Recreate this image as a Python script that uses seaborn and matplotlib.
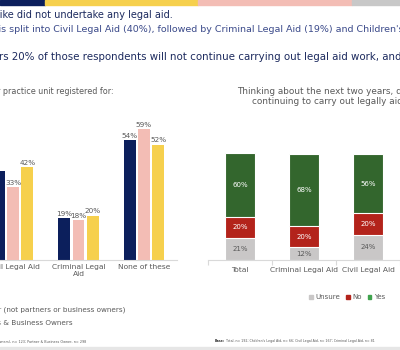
import matplotlib
matplotlib.use("Agg")
import matplotlib.pyplot as plt
import matplotlib.patches as mpatches
import pandas as pd
import seaborn as sns

# left chart: legal aid types the practice unit is registered for, by role
reg_categories = ["Civil Legal Aid", "Criminal Legal\nAid", "None of these"]
reg_groups = ["Total", "Solicitor (not partners or business owners)", "Partners & Business Owners"]
reg_total = [40, 19, 54]
reg_solicitor = [33, 18, 59]
reg_partner = [42, 20, 52]

# right chart: continuing to carry out legally aided work
cont_categories = ["Total", "Criminal Legal Aid", "Civil Legal Aid"]
cont_unsure = [21, 12, 24]
cont_no = [20, 20, 20]
cont_yes = [60, 68, 56]
cont_labels = ["Unsure", "No", "Yes"]

NAVY = "#0c1f5c"
PINK = "#f3bdb5"
YELLOW = "#f6d04d"
GREEN = "#33662d"
RED = "#b3231b"
GREY_BAR = "#c9c7c7"
TXT = "#595959"
HEAD = "#1c2a5e"
HEAD2 = "#3b4a8a"
AXIS = "#d9d9d9"

W, H = 400, 350
fig = plt.figure(figsize=(4, 3.5), dpi=100)


def fx(px):
    return px / W


def fy(py):
    return 1 - py / H


# slide decorations: colour strip on top, grey band at the bottom
for x0, x1, col in [(0, 45, NAVY), (45, 198, YELLOW), (198, 352, PINK), (352, 400, "#c8c8c8")]:
    fig.patches.append(mpatches.Rectangle((fx(x0), fy(4.5)), fx(x1 - x0), 4.5 / H,
                                          transform=fig.transFigure, color=col, zorder=0))
fig.patches.append(mpatches.Rectangle((0, 0), 1, 3 / H, transform=fig.transFigure,
                                      color="#e6e6e6", zorder=0))

renderer = fig.canvas.get_renderer()


def text_from(prefix, visible, x_px, y_px, **kw):
    # place text so that `visible` starts at x_px (prefix falls off the slide)
    probe = fig.text(0, 0, prefix, **kw)
    w = probe.get_window_extent(renderer).width
    probe.remove()
    fig.text(fx(x_px - w), fy(y_px), prefix + visible, va="center", **kw)


fig.text(fx(173), fy(15), "A large share of solicitors and partners alike did not undertake any legal aid.",
         ha="right", va="center", fontsize=7.0, color=HEAD)
text_from("Legal aid work undertaken i",
          "s split into Civil Legal Aid (40%), followed by Criminal Legal Aid (19%) and Children's Legal Aid.",
          1, 29, fontsize=6.8, color=HEAD2)
text_from("It appea",
          "rs 20% of those respondents will not continue carrying out legal aid work, and others are unsure.",
          -1, 57, fontsize=7.4, color=HEAD)

# ---- left chart
ax1 = fig.add_axes([0, fy(260), fx(177), (260 - 105) / H])
df = pd.DataFrame({
    "category": reg_categories * 3,
    "group": [g for g in reg_groups for _ in reg_categories],
    "value": reg_total + reg_solicitor + reg_partner,
})
sns.barplot(data=df, x="category", y="value", hue="group", order=reg_categories,
            hue_order=reg_groups, palette=[NAVY, PINK, YELLOW], saturation=1,
            width=0.66, gap=0.17, legend=False, ax=ax1)
for c in ax1.containers:
    ax1.bar_label(c, fmt="%.0f%%", fontsize=5.2, color=TXT, padding=1)
ax1.set_xlim(-13 / 65.5, 2 + 33 / 65.5)
ax1.set_ylim(0, 70)
ax1.set_xlabel("")
ax1.set_ylabel("")
ax1.set_yticks([])
for s in ["top", "right", "left"]:
    ax1.spines[s].set_visible(False)
ax1.spines["bottom"].set_color(AXIS)
ax1.tick_params(axis="x", length=0, labelsize=5.4, labelcolor=TXT, pad=3)

text_from("Type of legal aid your ", "practice unit registered for:", 3, 92, fontsize=5.8, color=TXT)
fig.text(fx(125), fy(310), "Solicitor (not partners or business owners)", ha="right", va="center",
         fontsize=5.2, color=TXT)
fig.text(fx(73), fy(323), "Partners & Business Owners", ha="right", va="center", fontsize=5.2, color=TXT)
fig.text(fx(86), fy(342), "Base: Solicitor (not partners or business owners), n= 123; Partner & Business Owner, n= 298",
         ha="right", va="center", fontsize=2.4, color=TXT)

# ---- right chart (stacked by overlaying cumulative totals)
ax2 = fig.add_axes([fx(208), fy(260), fx(192), (260 - 133) / H])
cum_no = [u + n for u, n in zip(cont_unsure, cont_no)]
cum_yes = [c + y for c, y in zip(cum_no, cont_yes)]
for vals, col in [(cum_yes, GREEN), (cum_no, RED), (cont_unsure, GREY_BAR)]:
    sns.barplot(x=cont_categories, y=vals, color=col, saturation=1, width=0.48,
                edgecolor="white", linewidth=0.8, ax=ax2)
for i in range(len(cont_categories)):
    u, n, y = cont_unsure[i], cont_no[i], cont_yes[i]
    ax2.text(i, u / 2, f"{u}%", ha="center", va="center", fontsize=5, color=TXT)
    ax2.text(i, u + n / 2, f"{n}%", ha="center", va="center", fontsize=5, color="white")
    ax2.text(i, u + n + y / 2, f"{y}%", ha="center", va="center", fontsize=5, color="white")
ax2.set_xlim(-0.5, -0.5 + 192 / 68.5)
ax2.set_ylim(0, 120)
ax2.set_xlabel("")
ax2.set_ylabel("")
ax2.set_yticks([])
for s in ["top", "right", "left"]:
    ax2.spines[s].set_visible(False)
ax2.spines["bottom"].set_color(AXIS)
ax2.set_xticks([-0.5, 0.5, 1.5, 2.5], minor=True)
ax2.tick_params(axis="x", which="major", length=0, labelsize=5.4, labelcolor=TXT, pad=5)
ax2.tick_params(axis="x", which="minor", length=3.5, color=AXIS, width=0.8)

handles = [mpatches.Patch(color=c, label=l) for c, l in zip([GREY_BAR, RED, "#3fa34d"], cont_labels)]
fig.legend(handles=handles, loc="center", bbox_to_anchor=(fx(347), fy(297)), ncol=3, frameon=False,
           fontsize=5, handlelength=0.5, handleheight=0.5, handletextpad=0.35, columnspacing=0.9,
           labelcolor=TXT)

fig.text(fx(237), fy(92), "Thinking about the next two years, do you see your practice unit",
         va="center", fontsize=6.4, color=TXT)
fig.text(fx(252), fy(102), "continuing to carry out legally aided work?",
         va="center", fontsize=6.4, color=TXT)

fig.text(fx(215), fy(341), "Base:", va="center", fontsize=2.3, color="#333333", weight="bold")
fig.text(fx(226.5), fy(341),
         "Total, n= 192; Children's Legal Aid, n= 66; Civil Legal Aid, n= 167; Criminal Legal Aid, n= 81",
         va="center", fontsize=2.3, color=TXT)

fig.savefig("out.png", dpi=100)
